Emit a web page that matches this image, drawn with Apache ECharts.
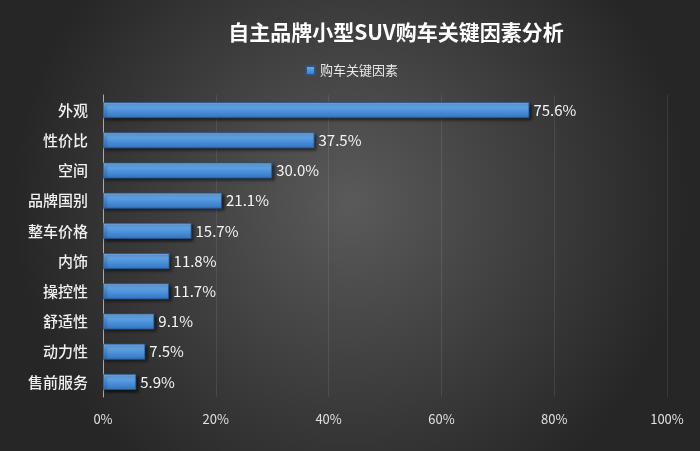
<!DOCTYPE html>
<html><head><meta charset="utf-8">
<script src="https://cdn.jsdelivr.net/npm/echarts@6/dist/echarts.min.js"></script>
<style>html,body{margin:0;padding:0;}#c{width:700px;height:451px;}</style>
</head><body><div id="c"></div>
<script>
const categories = ['外观','性价比','空间','品牌国别','整车价格','内饰','操控性','舒适性','动力性','售前服务'];
const values = [75.6,37.5,30.0,21.1,15.7,11.8,11.7,9.1,7.5,5.9];
const seriesName = '购车关键因素';
const chart = echarts.init(document.getElementById('c'));
const font = '"Noto Sans CJK SC", "Noto Sans", sans-serif';
chart.setOption({
  backgroundColor: {type:'radial', x:0.5, y:0.45, r:0.75, colorStops:[{offset:0,color:'#5a5a5a'},{offset:1,color:'#262626'}]},
  textStyle:{fontFamily:font},
  title:{text:'自主品牌小型SUV购车关键因素分析', left:391, textAlign:'center', top:17,
    textStyle:{color:'#ffffff', fontSize:21, fontWeight:'bold', fontFamily:font}},
  legend:{data:[seriesName], top:59, left:300, icon:'rect', itemWidth:9, itemHeight:9, itemGap:4,
    textStyle:{color:'#e8e8e8', fontSize:13, fontFamily:font}},
  grid:{left:103, right:33, top:95, bottom:54},
  xAxis:{type:'value', min:0, max:100, interval:20,
    axisLabel:{formatter:'{value}%', color:'#e0e0e0', fontSize:13, margin:16},
    axisLine:{show:false}, axisTick:{show:false},
    splitLine:{lineStyle:{color:'rgba(255,255,255,0.09)', width:1}}},
  yAxis:{type:'category', data:categories, inverse:true,
    axisLine:{lineStyle:{color:'#aaaaaa'}}, axisTick:{show:false},
    axisLabel:{color:'#f0f0f0', fontSize:15, fontWeight:500, margin:15}},
  series:[{name:seriesName, type:'bar', data:values, barWidth:16,
    itemStyle:{color:{type:'linear',x:0,y:0,x2:0,y2:1,colorStops:[{offset:0,color:'#7ab4ee'},{offset:0.5,color:'#4f95de'},{offset:1,color:'#3573be'}]},
      borderColor:'#24558f', borderWidth:0.8,
      shadowColor:'rgba(0,0,0,0.6)', shadowBlur:3, shadowOffsetX:2, shadowOffsetY:2},
    label:{show:true, position:'right', distance:4, color:'#f5f5f5', fontSize:15,
      formatter:p=>p.value.toFixed(1)+'%'}}]
});
</script></body></html>
